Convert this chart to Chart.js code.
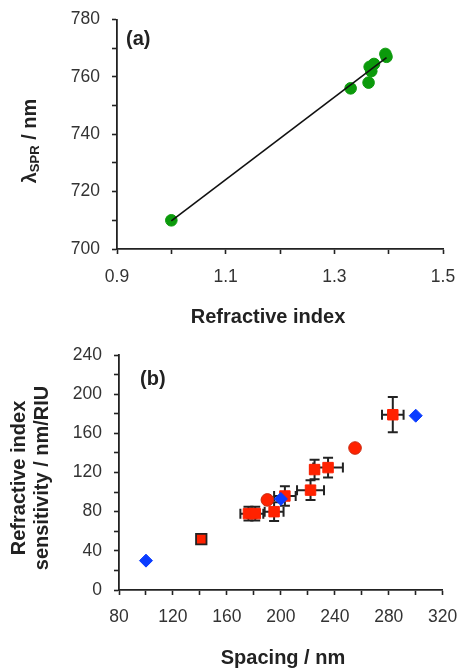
<!DOCTYPE html>
<html>
<head>
<meta charset="utf-8">
<script src="https://cdn.jsdelivr.net/npm/chart.js@4"></script>
<style>
  html, body { margin: 0; padding: 0; background: #fff; }
  canvas { display: block; }
</style>
</head>
<body>
<canvas id="chartA" width="461" height="330"></canvas>
<canvas id="chartB" width="461" height="340"></canvas>
<script>
// panel (a): LSPR peak vs refractive index
const riValues = [1.000, 1.330, 1.363, 1.365, 1.368, 1.373, 1.394, 1.396];
const lambdaValues = [710, 756, 758, 763.5, 762, 764.5, 768, 767];
const fitX = [1.0, 1.396];
const fitY = [709.8, 766.7];
const aXLabels = ['0.9', '1.1', '1.3', '1.5'];
const aYLabels = ['700', '720', '740', '760', '780'];

// panel (b): sensitivity vs spacing
const simSpacing = [100, 200, 300];
const simSens = [30, 93, 178];
const expSpacing = [141, 176, 181, 195, 203, 222, 225, 235, 283];
const expSens = [52, 78, 78, 80, 96, 102, 123, 125, 179];
const spacingErr = [0, 6, 6, 7, 8, 10, 3, 11, 8];
const sensErr = [0, 7, 7, 9.5, 10, 10, 10, 10, 18];
const roundSpacing = [190, 255];
const roundSens = [92, 145];
const bXLabels = ['80', '120', '160', '200', '240', '280', '320'];
const bYLabels = ['0', '40', '80', '120', '160', '200', '240'];

const AXIS = '#222';
const FONT = "'Liberation Sans', Arial, sans-serif";
const RED = '#ff2200';

// every other tick gets a label, the rest are minor ticks
const labelFrom = list => (v, i) => (i % 2 ? '' : list[i / 2]);

// fixed axis size; edge labels may overhang into the layout padding
const fixSize = (prop, size) => s => {
  s[prop] = size;
  s.paddingLeft = s.paddingRight = s.paddingTop = s.paddingBottom = 0;
};

function axis(min, max, step, labels, pad, extra) {
  return Object.assign({
    type: 'linear',
    min: min,
    max: max,
    ticks: {
      stepSize: step, autoSkip: false, maxRotation: 0, minRotation: 0, padding: pad,
      color: '#333', font: { family: FONT, size: 17.5 }, callback: labelFrom(labels)
    },
    grid: { drawOnChartArea: false, tickLength: 5, tickColor: AXIS, tickWidth: 1.6 },
    border: { color: AXIS, width: 1.8 }
  }, extra);
}

// draws text pieces (with optional subscript parts) centred on a point
function drawRich(ctx, x, y, rot, parts) {
  ctx.save();
  ctx.translate(x, y);
  ctx.rotate(rot);
  let total = 0;
  parts.forEach(p => {
    ctx.font = 'bold ' + p.size + 'px ' + FONT;
    p.w = ctx.measureText(p.text).width;
    total += p.w;
  });
  let cx = -total / 2;
  ctx.textAlign = 'left';
  ctx.textBaseline = 'middle';
  ctx.fillStyle = AXIS;
  parts.forEach(p => {
    ctx.font = 'bold ' + p.size + 'px ' + FONT;
    ctx.fillText(p.text, cx, p.dy || 0);
    cx += p.w;
  });
  ctx.restore();
}

const labelsPlugin = {
  id: 'panelText',
  afterDraw(chart, args, opts) {
    const ctx = chart.ctx;
    (opts.items || []).forEach(it => drawRich(ctx, it.x, it.y, it.rot || 0, it.parts));
    if (opts.tag) {
      ctx.save();
      ctx.font = 'bold 20px ' + FONT;
      ctx.fillStyle = AXIS;
      ctx.textAlign = 'left';
      ctx.textBaseline = 'middle';
      ctx.fillText(opts.tag.text, opts.tag.x, opts.tag.y);
      ctx.restore();
    }
  }
};

const errorBars = {
  id: 'errorBars',
  beforeDatasetsDraw(chart) {
    const { ctx, scales: { x, y } } = chart;
    const cap = 5;
    ctx.save();
    ctx.strokeStyle = AXIS;
    ctx.lineWidth = 2;
    expSpacing.forEach((s, i) => {
      const px = x.getPixelForValue(s);
      const py = y.getPixelForValue(expSens[i]);
      ctx.beginPath();
      if (spacingErr[i] > 0) {
        const x0 = x.getPixelForValue(s - spacingErr[i]);
        const x1 = x.getPixelForValue(s + spacingErr[i]);
        ctx.moveTo(x0, py); ctx.lineTo(x1, py);
        ctx.moveTo(x0, py - cap); ctx.lineTo(x0, py + cap);
        ctx.moveTo(x1, py - cap); ctx.lineTo(x1, py + cap);
      }
      if (sensErr[i] > 0) {
        const y0 = y.getPixelForValue(expSens[i] - sensErr[i]);
        const y1 = y.getPixelForValue(expSens[i] + sensErr[i]);
        ctx.moveTo(px, y0); ctx.lineTo(px, y1);
        ctx.moveTo(px - cap, y0); ctx.lineTo(px + cap, y0);
        ctx.moveTo(px - cap, y1); ctx.lineTo(px + cap, y1);
      }
      ctx.stroke();
    });
    ctx.restore();
  }
};

const common = {
  responsive: false,
  animation: false,
  events: [],
  plugins: { legend: { display: false }, tooltip: { enabled: false } }
};

// chart (a)
new Chart(document.getElementById('chartA'), {
  type: 'scatter',
  data: {
    datasets: [{
      data: fitX.map((v, i) => ({ x: v, y: fitY[i] })),
      showLine: true,
      borderColor: '#111',
      borderWidth: 1.6,
      pointRadius: 0
    }, {
      data: riValues.map((v, i) => ({ x: v, y: lambdaValues[i] })),
      pointStyle: 'circle',
      pointRadius: 5.8,
      backgroundColor: '#0b9a0b',
      borderColor: '#0b9a0b',
      borderWidth: 1
    }]
  },
  options: Object.assign({}, common, {
    layout: { padding: { left: 0, top: 19.5, right: 18, bottom: 0 } },
    scales: {
      x: axis(0.9, 1.5, 0.1, aXLabels, 13, { afterFit: fixSize('height', 81) }),
      y: axis(700, 780, 10, aYLabels, 12, { afterFit: fixSize('width', 117) })
    },
    plugins: Object.assign({}, common.plugins, {
      panelText: {
        tag: { text: '(a)', x: 126, y: 39 },
        items: [
          { x: 268, y: 317, parts: [{ text: 'Refractive index', size: 20 }] },
          { x: 30, y: 141, rot: -Math.PI / 2, parts: [
            { text: 'λ', size: 20 },
            { text: 'SPR', size: 13, dy: 5 },
            { text: ' / nm', size: 20 }
          ] }
        ]
      }
    })
  }),
  plugins: [labelsPlugin]
});

// chart (b)
new Chart(document.getElementById('chartB'), {
  type: 'scatter',
  data: {
    datasets: [{
      data: simSpacing.map((v, i) => ({ x: v, y: simSens[i] })),
      pointStyle: 'rectRot',
      pointRadius: 6.5,
      backgroundColor: '#0a3cff',
      borderColor: '#0a3cff',
      borderWidth: 1
    }, {
      data: roundSpacing.map((v, i) => ({ x: v, y: roundSens[i] })),
      pointStyle: 'circle',
      pointRadius: 6.3,
      backgroundColor: RED,
      borderColor: '#c82a10',
      borderWidth: 1
    }, {
      data: expSpacing.map((v, i) => ({ x: v, y: expSens[i] })),
      pointStyle: 'rect',
      pointRadius: 7.4,
      backgroundColor: RED,
      borderColor: c => (c.dataIndex === 0 ? '#222' : RED),
      borderWidth: c => (c.dataIndex === 0 ? 1.8 : 1)
    }]
  },
  options: Object.assign({}, common, {
    layout: { padding: { left: 0, top: 25, right: 18.3, bottom: 0 } },
    scales: {
      x: axis(80, 320, 20, bXLabels, 12, { afterFit: fixSize('height', 80) }),
      y: axis(0, 240, 20, bYLabels, 12, { afterFit: fixSize('width', 119) })
    },
    plugins: Object.assign({}, common.plugins, {
      panelText: {
        tag: { text: '(b)', x: 140, y: 49 },
        items: [
          { x: 283, y: 328, parts: [{ text: 'Spacing / nm', size: 20 }] },
          { x: 19, y: 148, rot: -Math.PI / 2, parts: [{ text: 'Refractive index', size: 20 }] },
          { x: 42, y: 148, rot: -Math.PI / 2, parts: [{ text: 'sensitivity / nm/RIU', size: 20 }] }
        ]
      }
    })
  }),
  plugins: [labelsPlugin, errorBars]
});
</script>
</body>
</html>
